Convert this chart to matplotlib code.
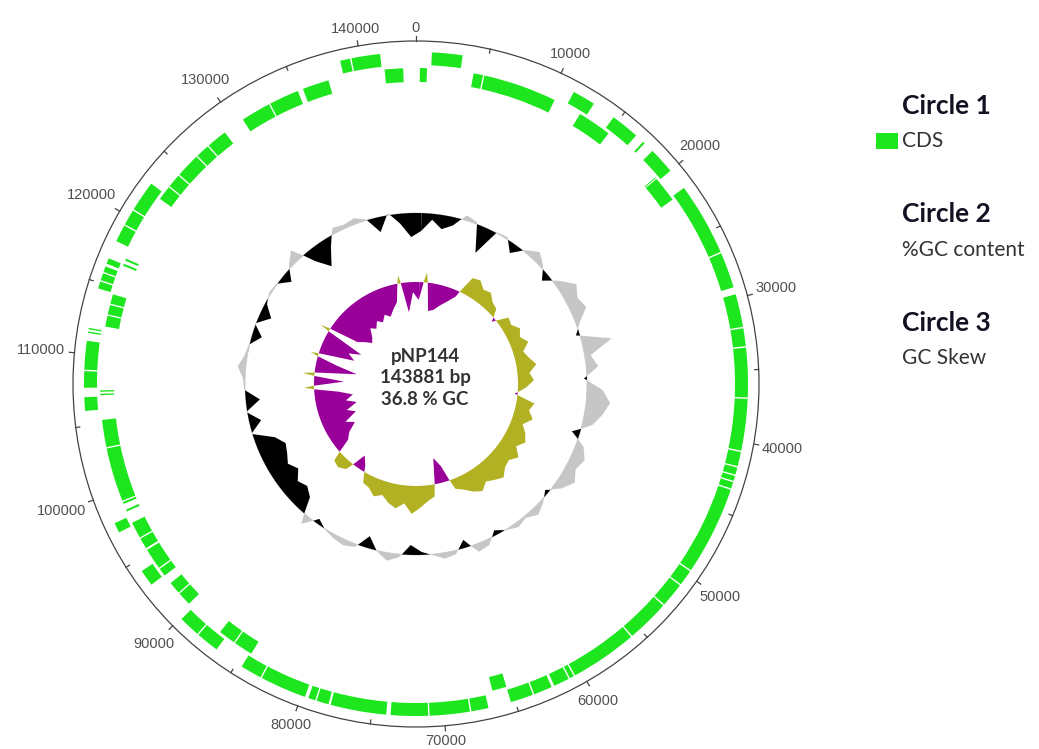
import numpy as np
import matplotlib
matplotlib.use("Agg")
import matplotlib.pyplot as plt
from matplotlib.patches import Wedge, Circle, Rectangle, Polygon

# plasmid pNP144
name = "pNP144"
length = 143881
gc_total = 36.8

# CDS on the forward strand (outer row) and reverse strand (inner row), bp
cds_fwd = [
    (1100, 3230), (11350, 12950), (14600, 16600), (17250, 17400), (18150, 20000),
    (21500, 26600), (26700, 29200), (29700, 32000), (32100, 33350), (33450, 36900),
    (37000, 40600), (40700, 41700), (41800, 42300), (42400, 42750), (42850, 43300),
    (43400, 49600), (49700, 50800), (50900, 52600), (52700, 55700), (55800, 60500),
    (60600, 60900), (61000, 62100), (62300, 63600), (63700, 65300), (66900, 68100),
    (68200, 71000), (71100, 73700), (74000, 77900), (78050, 78900), (79000, 79500),
    (79750, 83000), (83100, 84600), (86700, 88300), (88400, 89900), (93050, 94200),
    (97300, 98000), (106050, 107000), (107650, 108800), (108900, 110900),
    (111450, 111550), (111700, 111800), (114600, 115100), (115200, 115700),
    (115800, 116200), (116400, 116800), (118100, 119300), (119400, 120500),
    (120600, 122750), (138600, 139300), (139400, 141400),
]
cds_rev = [
    (280, 800), (4200, 4900), (5000, 10400), (12500, 15000), (19650, 19720),
    (19800, 21700), (65300, 66350), (84500, 85900), (86000, 87250), (90300, 91300),
    (91400, 92300), (93000, 93600), (93700, 95250), (95400, 96200), (96300, 97500),
    (98400, 98550), (99000, 99150), (99250, 103200), (103300, 105300),
    (107100, 107200), (107350, 107450), (112100, 112900), (113000, 113700),
    (113800, 114500), (116700, 116850), (117100, 117250), (122250, 123300),
    (123400, 124400), (124500, 126300), (126400, 127400), (127500, 129000),
    (130600, 132800), (132900, 135100), (135500, 137450), (141600, 142950),
]

# %GC per window (96 equal windows)
gc_content = [
    30.8, 34.8, 32.1, 34.1, 38.5, 37.5, 27.8, 37.1, 37.5, 33.5,
    37.5, 40.1, 37.8, 34.1, 38.8, 42.8, 40.8, 42.1, 38.1, 35.5,
    46.8, 38.8, 40.8, 35.8, 42.1, 44.8, 42.8, 40.1, 34.1, 39.5,
    41.5, 40.1, 42.1, 39.5, 35.5, 37.8, 39.5, 37.5, 38.5, 37.1,
    35.1, 38.8, 39.5, 34.1, 38.1, 38.8, 37.1, 35.8, 33.5, 37.8,
    39.5, 37.1, 32.8, 37.8, 38.8, 38.1, 37.1, 35.1, 40.1, 31.5,
    29.5, 30.8, 28.1, 30.1, 28.5, 27.5, 30.1, 37.1, 32.8, 37.1,
    32.1, 37.1, 37.5, 39.5, 37.8, 37.1, 33.5, 37.1, 32.8, 36.1,
    37.5, 37.1, 33.5, 37.8, 40.8, 32.8, 28.1, 33.5, 38.8, 38.1,
    38.8, 37.1, 31.8, 37.5, 33.5, 28.8,
]

# GC skew (G-C)/(G+C) per window
gc_skew = [
    -0.18, 0.10, -0.28, -0.26, -0.20, -0.14, -0.06, 0.18, 0.20, 0.14,
    0.16, 0.10, 0.08, -0.04, 0.12, 0.10, 0.16, 0.12, 0.18, 0.10,
    0.14, 0.20, 0.12, 0.16, 0.08, -0.03, 0.18, 0.14, 0.20, 0.12,
    0.18, 0.22, 0.16, 0.24, 0.18, 0.20, 0.26, 0.22, 0.18, 0.24,
    0.20, 0.14, 0.10, -0.16, -0.26, 0.12, 0.16, 0.22, 0.28, 0.18,
    0.24, 0.20, 0.14, 0.18, 0.12, 0.10, -0.06, -0.14, 0.08, 0.12,
    0.10, -0.14, -0.20, -0.30, -0.22, -0.36, -0.28, -0.40, -0.30, -0.38,
    -0.24, 0.10, -0.30, 0.12, -0.42, -0.20, 0.08, -0.36, -0.28, -0.40,
    0.10, -0.30, -0.36, -0.42, -0.38, -0.30, -0.34, -0.28, -0.32, -0.26,
    -0.30, -0.24, -0.18, 0.08, -0.30, -0.10,
]

legend_titles = ["Circle 1", "Circle 2", "Circle 3"]
legend_items = ["CDS", "%GC content", "GC Skew"]

green = "#1ee61e"
font = ["Lato", "DejaVu Sans"]

cx, cy = 416, 384
r_axis = 343
r_gc, r_skew = 171, 102

fig = plt.figure(figsize=(10.39, 7.49), dpi=100)
ax = fig.add_axes([0, 0, 1, 1])
ax.set_xlim(0, 1039)
ax.set_ylim(749, 0)
ax.axis("off")


def deg(bp):
    return bp / length * 360.0


def xy(theta, r):
    return cx + r * np.sin(theta), cy - r * np.cos(theta)


# backbone circle with ticks and labels
ax.add_patch(Circle((cx, cy), r_axis, fill=False, lw=0.9, ec="#444444"))
for pos in range(0, length, 5000):
    th = np.radians(deg(pos))
    major = pos % 10000 == 0
    r1, r2 = (r_axis, r_axis + 5) if major else (r_axis - 4, r_axis)
    x1, y1 = xy(th, r1)
    x2, y2 = xy(th, r2)
    ax.plot([x1, x2], [y1, y2], color="#444444", lw=0.9)
    if major:
        label = str(pos)
        w, h = 8.6 * len(label), 12
        r_lab = r_axis + 7 + w / 2 * abs(np.sin(th)) + h / 2 * abs(np.cos(th))
        tx, ty = xy(th, r_lab)
        ax.text(tx, ty, label, ha="center", va="center", fontsize=10.5,
                color="#505050", family=["Liberation Sans", "DejaVu Sans"])

# circle 1: CDS
for rows, r_out, w in ((cds_fwd, 332, 13), (cds_rev, 316, 14)):
    for start, end in rows:
        ax.add_patch(Wedge((cx, cy), r_out, deg(start) - 90, deg(end) - 90,
                           width=w, fc=green, ec="none"))


def ring(values, r0, scale, pos_color, neg_color):
    v = np.asarray(values, dtype=float) * scale
    n = len(v)
    th = 2 * np.pi * (np.arange(n + 1) + 0.5) / n
    v = np.append(v, v[0])
    # add the points where the profile crosses the baseline
    T, V = [th[0]], [v[0]]
    for i in range(n):
        a, b = v[i], v[i + 1]
        if a * b < 0:
            T.append(th[i] + a / (a - b) * (th[i + 1] - th[i]))
            V.append(0.0)
        T.append(th[i + 1])
        V.append(b)
    T, V = np.array(T), np.array(V)
    for sign, color in ((1, pos_color), (-1, neg_color)):
        mask = sign * V > 0
        i = 0
        while i < len(V):
            if not mask[i]:
                i += 1
                continue
            j = i
            while j + 1 < len(V) and mask[j + 1]:
                j += 1
            a, b = max(i - 1, 0), min(j + 1, len(V) - 1)
            tt = T[a:b + 1]
            vv = np.where(mask[a:b + 1], V[a:b + 1], 0.0)
            px, py = xy(tt, r0 + vv)
            arc = np.linspace(tt[-1], tt[0], max(int((tt[-1] - tt[0]) * 60), 2))
            bx, by = xy(arc, r0)
            pts = np.column_stack([np.concatenate([px, bx]), np.concatenate([py, by])])
            ax.add_patch(Polygon(pts, closed=True, fc=color, ec="none"))
            i = j + 1


# circle 2: GC content relative to the plasmid average
ax.add_patch(Circle((cx, cy), r_gc, fill=False, lw=0.6, ec="#cccccc"))
ring(np.array(gc_content) - gc_total, r_gc, 3.0, "#c6c6c6", "#000000")

# circle 3: GC skew
ring(gc_skew, r_skew, 100.0, "#b1b123", "#990099")

# label in the middle
ax.text(cx + 9, cy - 6, f"{name}\n{length} bp\n{gc_total} % GC", ha="center",
        va="center", fontsize=13.5, fontweight="bold", color="#333333",
        family=font, linespacing=1.35)

# legend
ax.add_patch(Rectangle((876, 133), 22, 16, fc=green, ec="none"))
for i, (title, item) in enumerate(zip(legend_titles, legend_items)):
    y0 = 106 + i * 108.5
    ax.text(902, y0, title, ha="left", va="center", fontsize=19,
            fontweight="bold", color="#111122", family=font)
    ax.text(902, y0 + 35, item, ha="left", va="center", fontsize=15,
            color="#333333", family=font)

fig.savefig("out.png", dpi=100)
